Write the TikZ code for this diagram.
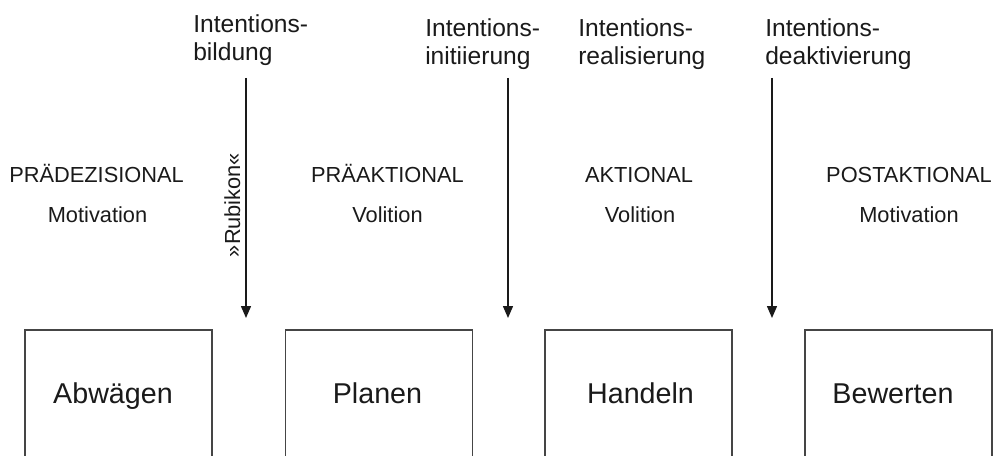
\documentclass[tikz,border=0pt]{standalone}
\usepackage{fontspec}
\setmainfont{Liberation Sans}
\usetikzlibrary{arrows.meta}
\definecolor{ink}{HTML}{1A1A1A}
\definecolor{framecol}{HTML}{454545}
\begin{document}
\begin{tikzpicture}[x=0.75pt,y=-0.75pt,
  phasebox/.style={draw=framecol,line width=1.4pt,minimum width=140.25pt,minimum height=105pt,inner sep=0pt},
  boxtext/.style={text=ink,inner sep=0pt,anchor=base,font=\fontsize{21.5}{25}\selectfont},
  toplabel/.style={text=ink,inner sep=0pt,anchor=north west,align=left,font=\fontsize{18.45}{21}\selectfont},
  phaselabel/.style={text=ink,inner sep=0pt,anchor=base,font=\fontsize{16.35}{19}\selectfont},
  conn/.style={draw=ink,line width=1.1pt,-{Triangle[width=7.5pt,length=9pt]}}]
\useasboundingbox (0,0) rectangle (996,456);
\fill[white] (0,0) rectangle (996,456);
\clip (0,0) rectangle (996,456);

% boxes (cut at the bottom edge)
\node[phasebox] (b1) at (118.5,400) {};
\node[phasebox] (b2) at (379,400) {};
\node[phasebox] (b3) at (638.5,400) {};
\node[phasebox] (b4) at (898.5,400) {};
\node[boxtext] (t1) at (113,403) {Abwägen};
\node[boxtext] (t2) at (377.5,403) {Planen};
\node[boxtext] (t3) at (640.5,403) {Handeln};
\node[boxtext] (t4) at (893,403) {Bewerten};

% top labels
\node[toplabel] (l1) at (193,14.5) {Intentions-\\bildung};
\node[toplabel] (l2) at (425,18) {Intentions-\\initiierung};
\node[toplabel] (l3) at (578,18) {Intentions-\\realisierung};
\node[toplabel] (l4) at (765,18.5) {Intentions-\\deaktivierung};

% phase labels
\node[phaselabel] (p1) at (96.5,183) {PRÄDEZISIONAL};
\node[phaselabel] (m1) at (97.5,223) {Motivation};
\node[phaselabel] (p2) at (387.5,183) {PRÄAKTIONAL};
\node[phaselabel] (m2) at (387.5,223) {Volition};
\node[phaselabel] (p3) at (639,183) {AKTIONAL};
\node[phaselabel] (m3) at (640,223) {Volition};
\node[phaselabel] (p4) at (909,183) {POSTAKTIONAL};
\node[phaselabel] (m4) at (909,223) {Motivation};
\node[phaselabel,rotate=90] (rk) at (240,205) {»Rubikon«};

% arrows
\coordinate (a1s) at (246,78);  \coordinate (a1e) at (246,318);
\coordinate (a2s) at (508,78);  \coordinate (a2e) at (508,318);
\coordinate (a3s) at (772,78);  \coordinate (a3e) at (772,318);
\draw[conn] (a1s) -- (a1e);
\draw[conn] (a2s) -- (a2e);
\draw[conn] (a3s) -- (a3e);
\end{tikzpicture}
\end{document}
